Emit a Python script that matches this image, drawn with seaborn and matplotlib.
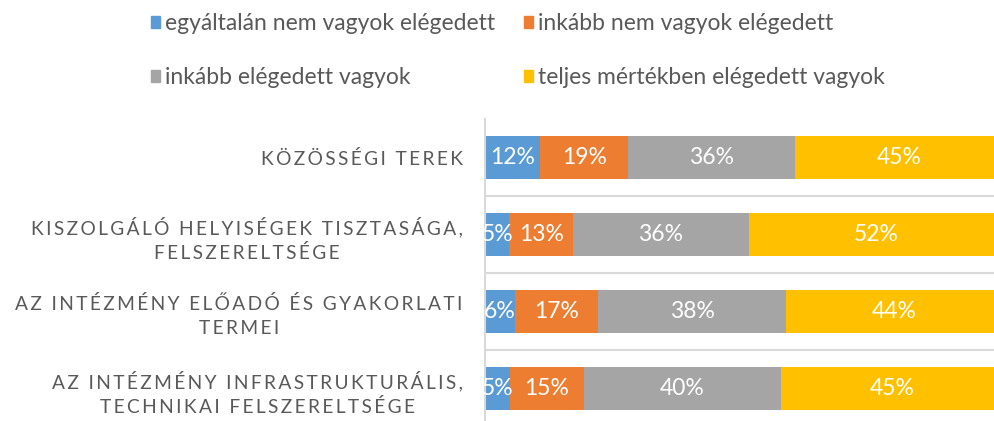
import matplotlib
matplotlib.use("Agg")
import matplotlib.pyplot as plt
import seaborn as sns
import numpy as np
from matplotlib.patches import Patch

categories = [
    "KÖZÖSSÉGI TEREK",
    "KISZOLGÁLÓ HELYISÉGEK TISZTASÁGA,\nFELSZERELTSÉGE",
    "AZ INTÉZMÉNY ELŐADÓ ÉS GYAKORLATI\nTERMEI",
    "AZ INTÉZMÉNY INFRASTRUKTURÁLIS,\nTECHNIKAI FELSZERELTSÉGE",
]
series = [
    "egyáltalán nem vagyok elégedett",
    "inkább nem vagyok elégedett",
    "inkább elégedett vagyok",
    "teljes mértékben elégedett vagyok",
]
not_at_all = [12, 5, 6, 5]
rather_not = [19, 13, 17, 15]
rather_yes = [36, 36, 38, 40]
fully = [45, 52, 44, 45]
colors = ["#5B9BD5", "#ED7D31", "#A5A5A5", "#FFC000"]

sns.set_style("white")
plt.rcParams["font.family"] = ["Lato", "DejaVu Sans"]


def spaced(s):
    return "\n".join("\u2009".join(line) for line in s.split("\n"))


values = np.array([not_at_all, rather_not, rather_yes, fully], dtype=float)
shares = values / values.sum(axis=0) * 100
cum = shares.cumsum(axis=0)

fig = plt.figure(figsize=(9.95, 4.21), dpi=100)
ax = fig.add_axes([485 / 995, -6 / 421, 518 / 995, 308 / 421])

# stacked bars: draw cumulative totals from the widest down
for j in reversed(range(len(series))):
    sns.barplot(x=cum[j], y=categories, color=colors[j], orient="h",
                width=0.56, saturation=1, linewidth=0, ax=ax)

for j in range(len(series)):
    for i in range(len(categories)):
        ax.text(cum[j][i] - shares[j][i] / 2, i, f"{int(values[j][i])}%",
                ha="center", va="center", color="white", fontsize=16.5)

for y in [0.5, 1.5, 2.5]:
    ax.axhline(y, color="#d9d9d9", lw=1.5, zorder=0)

ax.set_xlim(0, 100)
ax.set_ylim(3.5, -0.5)
ax.set_xticks([])
ax.set_xlabel("")
ax.set_ylabel("")
ax.set_yticks(range(len(categories)))
ax.set_yticklabels([spaced(c) for c in categories], color="#595959", fontsize=13.8)
for t in ax.get_yticklabels():
    t.set_multialignment("center")
    t.set_linespacing(1.45)
ax.tick_params(axis="y", length=0, pad=16)
for s in ["top", "right", "bottom"]:
    ax.spines[s].set_visible(False)
ax.spines["left"].set_color("#d9d9d9")
ax.spines["left"].set_linewidth(1.5)

handles = [Patch(color=c) for c in colors]
order = [0, 2, 1, 3]
fig.legend([handles[k] for k in order], [series[k] for k in order],
           ncol=2, loc="upper left", bbox_to_anchor=(151 / 995, 1 - 13 / 421),
           frameon=False, fontsize=16.5, handlelength=0.4, handleheight=0.4,
           handletextpad=0.22, columnspacing=1.25, labelspacing=1.45,
           borderpad=0, borderaxespad=0, labelcolor="#595959")

fig.savefig("out.png", dpi=100)
